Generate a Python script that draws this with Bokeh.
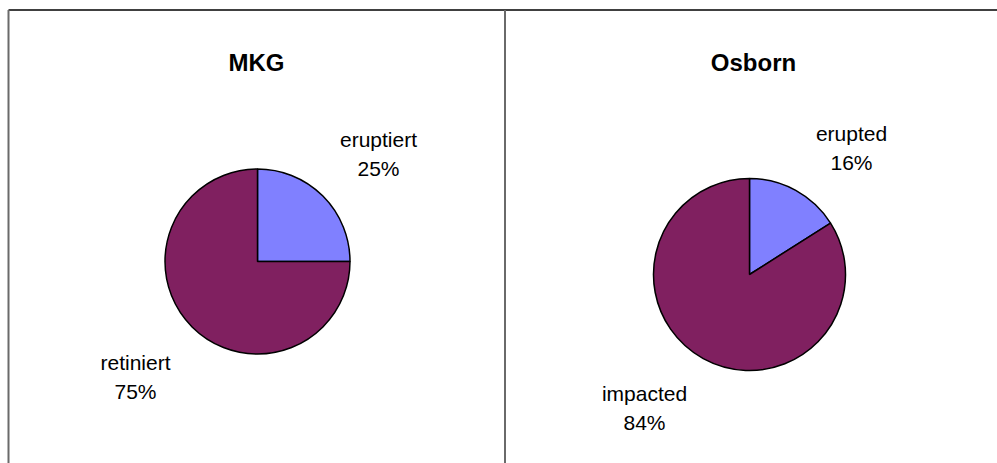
import math

from bokeh.plotting import figure
from bokeh.models import Range1d, ColumnDataSource
from bokeh.core.properties import value
from bokeh.embed import file_html
from bokeh.resources import INLINE

# --- data -------------------------------------------------------------
mkg_title = "MKG"
mkg_categories = ["eruptiert", "retiniert"]
mkg_values = [25, 75]

osborn_title = "Osborn"
osborn_categories = ["erupted", "impacted"]
osborn_values = [16, 84]

slice_colors = ["#8080FF", "#802060"]

# --- page layout (pixel coordinates, origin top-left) -------------------
W, H = 997, 463
FONT = "Liberation Sans"

panels = [
    {
        "title": mkg_title, "cats": mkg_categories, "vals": mkg_values,
        "title_x": 256, "title_base": 62,
        "cx": 257, "cy": 261, "r": 92.5,
        # label anchor (center x, baseline of the name line) per slice
        "labels": [(378, 139), (135, 362)],
    },
    {
        "title": osborn_title, "cats": osborn_categories, "vals": osborn_values,
        "title_x": 753, "title_base": 62,
        "cx": 749, "cy": 274, "r": 96,
        "labels": [(851, 133), (644, 393)],
    },
]
LINE_GAP = 29


def fy(py):
    """Convert a top-down pixel row into the figure's bottom-up y."""
    return H - py


p = figure(width=W, height=H, x_range=Range1d(0, W), y_range=Range1d(0, H),
           x_axis_type=None, y_axis_type=None, min_border=0,
           toolbar_location=None, output_backend="svg")
p.grid.visible = False
p.outline_line_color = None
p.background_fill_color = "white"
p.border_fill_color = "white"

# frame: top rule, left rule and the divider between the two charts
p.segment(x0=[8], y0=[fy(9.5)], x1=[W], y1=[fy(9.5)],
          line_color="#404040", line_width=2)
p.segment(x0=[8, 504.5], y0=[fy(9.5), fy(9.5)], x1=[8, 504.5], y1=[0, 0],
          line_color="#6a6a6a", line_width=2)

for panel in panels:
    vals = panel["vals"]
    total = float(sum(vals))
    starts, ends = [], []
    acc = 0.0
    # slices run clockwise from twelve o'clock
    for v in vals:
        starts.append(math.radians(90 - acc / total * 360))
        acc += v
        ends.append(math.radians(90 - acc / total * 360))

    src = ColumnDataSource(dict(
        x=[panel["cx"]] * len(vals), y=[fy(panel["cy"])] * len(vals),
        start=starts, end=ends, color=slice_colors[:len(vals)],
    ))
    p.wedge(x="x", y="y", radius=panel["r"], start_angle="start",
            end_angle="end", direction="clock", fill_color="color",
            line_color="black", line_width=1.5, source=src)

    p.text(x=[panel["title_x"]], y=[fy(panel["title_base"])],
           text=[panel["title"]], text_align="center",
           text_baseline="alphabetic", text_font=value(FONT),
           text_font_size="24px", text_font_style="bold", text_color="black")

    names, pcts, lx, ly1, ly2 = [], [], [], [], []
    for cat, v, (ax, base) in zip(panel["cats"], vals, panel["labels"]):
        names.append(cat)
        pcts.append(f"{round(v / total * 100)}%")
        lx.append(ax)
        ly1.append(fy(base))
        ly2.append(fy(base + LINE_GAP))
    p.text(x=lx, y=ly1, text=names, text_align="center",
           text_baseline="alphabetic", text_font=value(FONT),
           text_font_size="21px", text_color="black")
    p.text(x=lx, y=ly2, text=pcts, text_align="center",
           text_baseline="alphabetic", text_font=value(FONT),
           text_font_size="21px", text_color="black")

open("out.html", "w").write(file_html(p, INLINE))
